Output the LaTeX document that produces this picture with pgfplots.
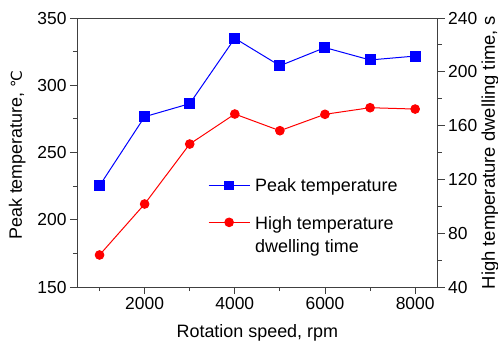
\documentclass[border=0pt]{standalone}
\usepackage{pgfplots}
\pgfplotsset{compat=1.18}
\usepackage{fontspec}
\setmainfont{Liberation Sans}
\newfontfamily\dejavu{DejaVu Sans}
\definecolor{fr}{gray}{0.25}
\pgfplotstableread{
x peak
1000 225.3
2000 276.6
3000 286.3
4000 334.9
5000 314.5
6000 328.0
7000 318.8
8000 321.7
}\peak
\pgfplotstableread{
x dwell
1000 63.8
2000 101.7
3000 146.3
4000 168.6
5000 156.2
6000 168.4
7000 173.3
8000 172.3
}\dwell
\begin{document}
\begin{tikzpicture}
\pgfplotsset{
  common/.style={
    scale only axis, width=360.7bp, height=269bp,
    at={(0,0)}, anchor=south west,
    xmin=500, xmax=8500,
    tick align=outside,
    major tick length=7bp, minor tick length=4bp,
    axis line style={draw=fr, line width=0.9bp},
    every tick/.style={draw=fr, line width=0.9bp},
    tick label style={font=\fontsize{17.5}{20}\selectfont},
    label style={font=\fontsize{18}{21}\selectfont},
    /pgf/number format/assume math mode=true,
    /pgf/number format/1000 sep={},
    scaled ticks=false,
  }
}
\begin{axis}[common,
  ymin=150, ymax=350,
  tick pos=left,
  xtick={2000,4000,6000,8000}, minor xtick={1000,3000,5000,7000},
  ytick={150,200,...,350}, minor ytick={175,225,...,325},
  xlabel={Rotation speed, rpm},
  ylabel={Peak temperature, {\dejavu\fontsize{15}{18}\selectfont ℃}},
  xlabel style={at={(axis description cs:0.5,-0.171)}, anchor=center},
  ylabel style={at={(axis description cs:-0.166,0.49)}, anchor=center},
]
\addplot[blue, line width=1bp, mark=square*, mark size=5bp, mark options={fill=blue, draw=blue}] table[x=x,y=peak] {\peak};
\end{axis}
\begin{axis}[common,
  ymin=40, ymax=240,
  axis x line=none, axis y line*=right,
  ytick={40,80,...,240}, minor ytick={60,100,...,220},
  ylabel={High temperature dwelling time, s},
  ylabel style={at={(axis description cs:1.145,0.5)}, anchor=center, font=\fontsize{18.5}{21}\selectfont},
  legend cell align=left,
  legend style={draw=none, fill=none, inner sep=0pt,
    at={(axis description cs:0.363,0.413)}, anchor=north west,
    font=\fontsize{18}{23}\selectfont, row sep=17bp,
    nodes={inner xsep=5bp}},
  legend image code/.code={\draw[mark repeat=2,mark phase=2,#1] plot coordinates {(0bp,0bp) (20.5bp,0bp) (41bp,0bp)};},
]
\addlegendimage{blue, line width=1bp, mark=square*, mark size=4.2bp, mark options={fill=blue, draw=blue}}
\addlegendentry{Peak temperature}
\addplot[red, line width=1bp, mark=*, mark size=4.3bp, mark options={fill=red, draw=red}] table[x=x,y=dwell] {\dwell};
\addlegendentry{\begin{tabular}[t]{@{}l@{}}High temperature\\dwelling time\end{tabular}}
\end{axis}
\pgfresetboundingbox
\useasboundingbox (-77bp,-58bp) rectangle (421bp,287bp);
\end{tikzpicture}
\end{document}
